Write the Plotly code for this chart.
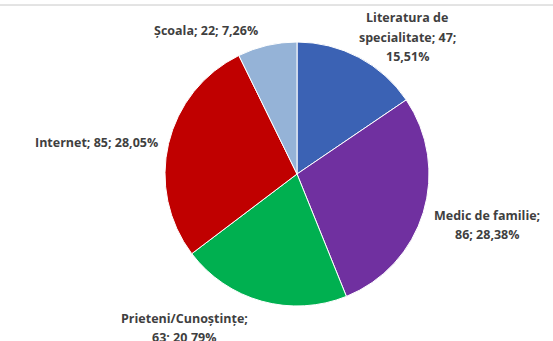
import plotly.graph_objects as go

# Surse de informare (număr de respondenți)
categories = ["Literatura de specialitate", "Medic de familie", "Prieteni/Cunoștințe", "Internet", "Școala"]
counts = [47, 86, 63, 85, 22]
colors = ["#3B62B4", "#7030A0", "#00B050", "#C00000", "#95B3D7"]

# label line-break layout and placement (pixel centre of first line)
label_lines = [
    ["Literatura de", "specialitate; {v};", "{p}"],
    ["Medic de familie;", "{v}; {p}"],
    ["Prieteni/Cunoștințe;", "{v}; {p}"],
    ["Internet; {v}; {p}"],
    ["Școala; {v}; {p}"],
]
label_pos = [(407, 18), (487, 215), (184, 318), (96, 142), (206, 30)]
LINE_GAP = 19.5

W, H = 553, 341
total = sum(counts)

fig = go.Figure(go.Pie(
    labels=categories,
    values=counts,
    sort=False,
    direction="clockwise",
    rotation=0,
    textinfo="none",
    hoverinfo="label+value+percent",
    marker=dict(colors=colors, line=dict(color="#FFFFFF", width=1)),
    showlegend=False,
    domain=dict(x=[165 / W, 429 / W], y=[(H - 306) / H, (H - 42) / H]),
))

for lines, v, (px, py) in zip(label_lines, counts, label_pos):
    pct = f"{100 * v / total:.2f}".replace(".", ",") + "%"
    for i, l in enumerate(lines):
        fig.add_annotation(
            x=px / W, y=1 - (py + i * LINE_GAP) / H, xref="paper", yref="paper",
            text=f"<b>{l.format(v=v, p=pct)}</b>", showarrow=False,
            xanchor="center", yanchor="middle",
            font=dict(family="Open Sans", size=12.5, color="#3F3F3F"),
        )

# thin separator line across the top
fig.add_shape(type="line", xref="paper", yref="paper",
              x0=0, x1=1, y0=1 - 5 / H, y1=1 - 5 / H,
              line=dict(color="#C8C8C8", width=1))

fig.update_layout(
    width=W, height=H,
    margin=dict(l=0, r=0, t=0, b=0),
    paper_bgcolor="#FFFFFF",
    plot_bgcolor="#FFFFFF",
)

fig.write_html("out.html")
